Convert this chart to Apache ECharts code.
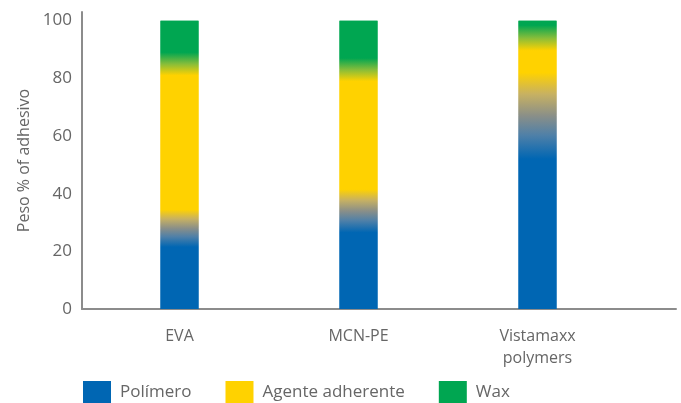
<!DOCTYPE html>
<html>
<head>
<meta charset="utf-8">
<script src="https://cdn.jsdelivr.net/npm/echarts@6/dist/echarts.min.js"></script>
<style>
  html, body { margin: 0; padding: 0; background: #fff; }
  #chart { width: 681px; height: 403px; }
</style>
</head>
<body>
<div id="chart"></div>
<script>
// datos (% en peso)
var categories = ['EVA', 'MCN-PE', 'Vistamaxx\npolymers'];
var polimero = [28, 34, 67];
var agente = [57, 49, 27];
var wax = [15, 17, 6];
var yTicks = [0, 20, 40, 60, 80, 100];

// colores y anchos del degradado entre capas (en unidades del eje)
var azul = '#0066b3', amarillo = '#ffd200', verde = '#00a651';
var fadeLow = [6.5, 7.5, 15];
var fadeHigh = [4, 4, 4.4];

// paradas de color a lo largo de toda la barra
function barStops(i) {
  var b1 = polimero[i], b2 = b1 + agente[i], top = b2 + wax[i];
  var f = fadeLow[i], g = fadeHigh[i];
  return [
    [0, azul], [b1 - f, azul], [b1 - 0.45 * f, '#4f80a8'], [b1, '#8a8f88'],
    [b1 + 0.5 * f, '#c7b162'], [b1 + f, amarillo],
    [b2 - g, amarillo], [b2, '#86bd3a'], [b2 + g, verde], [top, verde]
  ];
}
function segGradient(i, lo, hi) {
  var stops = barStops(i).filter(function (s) { return s[0] >= lo - 1e-9 && s[0] <= hi + 1e-9; })
    .map(function (s) { return { offset: (hi - s[0]) / (hi - lo), color: s[1] }; })
    .sort(function (a, b) { return a.offset - b.offset; });
  return new echarts.graphic.LinearGradient(0, 0, 0, 1, stops);
}
function buildData(vals, layer) {
  return vals.map(function (v, i) {
    var lo = 0;
    if (layer >= 1) lo += polimero[i];
    if (layer >= 2) lo += agente[i];
    return { value: v, itemStyle: { color: segGradient(i, lo, lo + v) } };
  });
}
// barra completa por debajo, para tapar las juntas entre capas
var fondo = categories.map(function (c, i) {
  var tot = polimero[i] + agente[i] + wax[i];
  return { value: tot, itemStyle: { color: segGradient(i, 0, tot) } };
});

var myChart = echarts.init(document.getElementById('chart'));
var txt = '#666666';
var fuente = 'Open Sans';
var option = {
  animation: false,
  textStyle: { fontFamily: fuente },
  grid: [
    { left: 90, right: 54, top: 12, bottom: 94 },
    { left: 82, right: 5, top: 12, bottom: 94 }
  ],
  legend: {
    left: 83, top: 381, padding: 0,
    icon: 'rect', itemWidth: 28, itemHeight: 22, itemGap: 34,
    textStyle: { color: txt, fontSize: 17, fontFamily: fuente, padding: [0, 0, 0, 4] },
    data: ['Polímero', 'Agente adherente', 'Wax']
  },
  xAxis: [
    {
      type: 'category', gridIndex: 0, data: categories,
      axisLine: { show: false }, axisTick: { show: false },
      axisLabel: { color: txt, fontSize: 16, fontFamily: fuente, margin: 16, lineHeight: 22 }
    },
    {
      type: 'value', gridIndex: 1, min: 0, max: 1,
      axisLine: { show: true, lineStyle: { color: '#8c8c8c', width: 2 } },
      axisTick: { show: false }, axisLabel: { show: false }, splitLine: { show: false }
    }
  ],
  yAxis: [
    { type: 'value', gridIndex: 0, min: 0, max: 103, show: false },
    {
      type: 'value', gridIndex: 1, min: 0, max: 103, interval: 20,
      name: 'Peso % of adhesivo', nameLocation: 'middle', nameGap: 48,
      nameTextStyle: { color: txt, fontSize: 16, fontFamily: fuente },
      axisLine: { show: true, lineStyle: { color: '#8c8c8c', width: 2 } },
      axisTick: { show: false }, splitLine: { show: false },
      axisLabel: {
        color: txt, fontSize: 17, fontFamily: fuente, margin: 10, showMaxLabel: false,
        formatter: function (v) { return yTicks.indexOf(v) >= 0 ? String(v) : ''; }
      }
    }
  ],
  series: [
    { name: 'fondo', type: 'bar', barWidth: 38, barGap: '-100%', silent: true, data: fondo },
    { name: 'Polímero', type: 'bar', stack: 'total', barWidth: 38, barGap: '-100%', color: azul, data: buildData(polimero, 0) },
    { name: 'Agente adherente', type: 'bar', stack: 'total', barWidth: 38, barGap: '-100%', color: amarillo, data: buildData(agente, 1) },
    { name: 'Wax', type: 'bar', stack: 'total', barWidth: 38, barGap: '-100%', color: verde, data: buildData(wax, 2) }
  ]
};
myChart.setOption(option);
</script>
</body>
</html>
